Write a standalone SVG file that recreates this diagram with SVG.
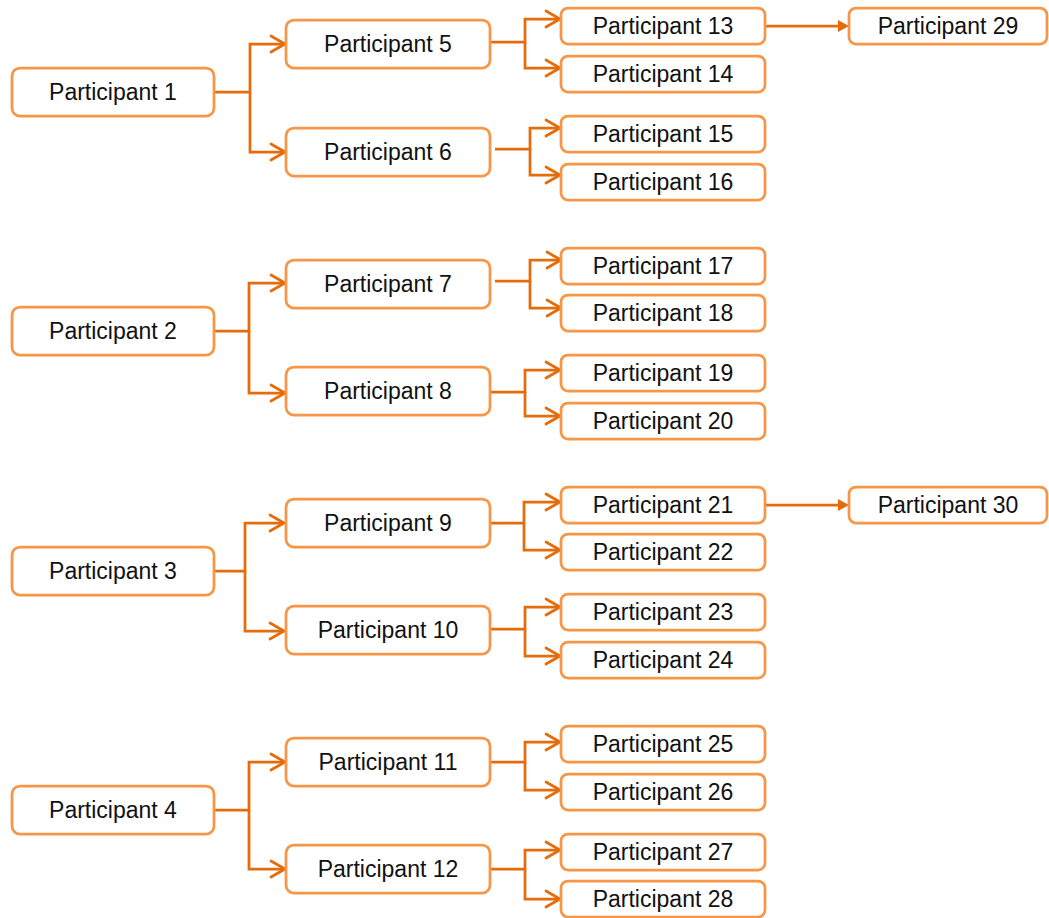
<svg xmlns="http://www.w3.org/2000/svg" width="1049" height="918" viewBox="0 0 1049 918">
<style>
.box{fill:#ffffff;stroke:#F79646;stroke-width:2.75}
.t{font-family:"Liberation Sans",Arial,sans-serif;font-size:23px;fill:#111111;text-anchor:middle}
.c{fill:none;stroke:#E46C0A;stroke-width:2.75;stroke-linejoin:miter}
.o{marker-end:url(#open)}
.f{marker-end:url(#filled)}
</style>
<defs>
<marker id="open" markerUnits="userSpaceOnUse" viewBox="-18 -11 22 22" refX="0" refY="0" markerWidth="22" markerHeight="22" orient="auto">
<path d="M-14,-8 L0,0 L-14,8" fill="none" stroke="#E46C0A" stroke-width="2.75" stroke-linecap="round" stroke-linejoin="miter"/>
</marker>
<marker id="filled" markerUnits="userSpaceOnUse" viewBox="-4 -8 16 16" refX="0" refY="0" markerWidth="16" markerHeight="16" orient="auto">
<path d="M-2,-6 L9,0 L-2,6 Z" fill="#E46C0A"/>
</marker>
</defs>
<rect width="1049" height="918" fill="#ffffff"/>
<g id="connectors">
<path class="c o" d="M214,92 H250 V44 H285"/>
<path class="c o" d="M250,92 V152 H285"/>
<path class="c o" d="M490,42 H525 V19 H560"/>
<path class="c o" d="M525,42 V68 H560"/>
<path class="c o" d="M495,149 H530 V128 H560"/>
<path class="c o" d="M530,149 V175 H560"/>
<path class="c f" d="M765,26 H840"/>
<path class="c o" d="M213,331 H249 V283 H285"/>
<path class="c o" d="M249,331 V393 H285"/>
<path class="c o" d="M495,281 H530 V260 H561"/>
<path class="c o" d="M530,281 V308 H561"/>
<path class="c o" d="M490,392 H525 V370 H560"/>
<path class="c o" d="M525,392 V416 H560"/>
<path class="c o" d="M209,571 H245 V523 H284"/>
<path class="c o" d="M245,571 V631 H284"/>
<path class="c o" d="M490,523 H524 V502 H560"/>
<path class="c o" d="M524,523 V550 H560"/>
<path class="c o" d="M490,629 H525 V607 H560"/>
<path class="c o" d="M525,629 V656 H560"/>
<path class="c f" d="M765,505 H840"/>
<path class="c o" d="M213,810 H249 V762 H285"/>
<path class="c o" d="M249,810 V869 H285"/>
<path class="c o" d="M490,762 H525 V742 H560"/>
<path class="c o" d="M525,762 V790 H560"/>
<path class="c o" d="M490,869 H525 V850 H560"/>
<path class="c o" d="M525,869 V899 H560"/>
</g>
<g id="p1"><rect class="box" x="12" y="68" width="202" height="48" rx="8"/><text class="t" x="113" y="100">Participant 1</text></g>
<g id="p2"><rect class="box" x="12" y="307" width="202" height="48" rx="8"/><text class="t" x="113" y="339">Participant 2</text></g>
<g id="p3"><rect class="box" x="12" y="547" width="202" height="48" rx="8"/><text class="t" x="113" y="579">Participant 3</text></g>
<g id="p4"><rect class="box" x="12" y="786" width="202" height="48" rx="8"/><text class="t" x="113" y="818">Participant 4</text></g>
<g id="p5"><rect class="box" x="286" y="20" width="204" height="48" rx="8"/><text class="t" x="388" y="52">Participant 5</text></g>
<g id="p6"><rect class="box" x="286" y="128" width="204" height="48" rx="8"/><text class="t" x="388" y="160">Participant 6</text></g>
<g id="p7"><rect class="box" x="286" y="260" width="204" height="48" rx="8"/><text class="t" x="388" y="292">Participant 7</text></g>
<g id="p8"><rect class="box" x="286" y="367" width="204" height="48" rx="8"/><text class="t" x="388" y="399">Participant 8</text></g>
<g id="p9"><rect class="box" x="286" y="499" width="204" height="48" rx="8"/><text class="t" x="388" y="531">Participant 9</text></g>
<g id="p10"><rect class="box" x="286" y="606" width="204" height="48" rx="8"/><text class="t" x="388" y="638">Participant 10</text></g>
<g id="p11"><rect class="box" x="286" y="738" width="204" height="48" rx="8"/><text class="t" x="388" y="770">Participant 11</text></g>
<g id="p12"><rect class="box" x="286" y="845" width="204" height="48" rx="8"/><text class="t" x="388" y="877">Participant 12</text></g>
<g id="p13"><rect class="box" x="561" y="8" width="204" height="36" rx="7"/><text class="t" x="663" y="34">Participant 13</text></g>
<g id="p14"><rect class="box" x="561" y="56" width="204" height="36" rx="7"/><text class="t" x="663" y="82">Participant 14</text></g>
<g id="p15"><rect class="box" x="561" y="116" width="204" height="36" rx="7"/><text class="t" x="663" y="142">Participant 15</text></g>
<g id="p16"><rect class="box" x="561" y="164" width="204" height="36" rx="7"/><text class="t" x="663" y="190">Participant 16</text></g>
<g id="p17"><rect class="box" x="561" y="248" width="204" height="36" rx="7"/><text class="t" x="663" y="274">Participant 17</text></g>
<g id="p18"><rect class="box" x="561" y="295" width="204" height="36" rx="7"/><text class="t" x="663" y="321">Participant 18</text></g>
<g id="p19"><rect class="box" x="561" y="355" width="204" height="36" rx="7"/><text class="t" x="663" y="381">Participant 19</text></g>
<g id="p20"><rect class="box" x="561" y="403" width="204" height="36" rx="7"/><text class="t" x="663" y="429">Participant 20</text></g>
<g id="p21"><rect class="box" x="561" y="487" width="204" height="36" rx="7"/><text class="t" x="663" y="513">Participant 21</text></g>
<g id="p22"><rect class="box" x="561" y="534" width="204" height="36" rx="7"/><text class="t" x="663" y="560">Participant 22</text></g>
<g id="p23"><rect class="box" x="561" y="594" width="204" height="36" rx="7"/><text class="t" x="663" y="620">Participant 23</text></g>
<g id="p24"><rect class="box" x="561" y="642" width="204" height="36" rx="7"/><text class="t" x="663" y="668">Participant 24</text></g>
<g id="p25"><rect class="box" x="561" y="726" width="204" height="36" rx="7"/><text class="t" x="663" y="752">Participant 25</text></g>
<g id="p26"><rect class="box" x="561" y="774" width="204" height="36" rx="7"/><text class="t" x="663" y="800">Participant 26</text></g>
<g id="p27"><rect class="box" x="561" y="834" width="204" height="36" rx="7"/><text class="t" x="663" y="860">Participant 27</text></g>
<g id="p28"><rect class="box" x="561" y="881" width="204" height="36" rx="7"/><text class="t" x="663" y="907">Participant 28</text></g>
<g id="p29"><rect class="box" x="849" y="8" width="198" height="36" rx="7"/><text class="t" x="948" y="34">Participant 29</text></g>
<g id="p30"><rect class="box" x="849" y="487" width="198" height="36" rx="7"/><text class="t" x="948" y="513">Participant 30</text></g>
</svg>
